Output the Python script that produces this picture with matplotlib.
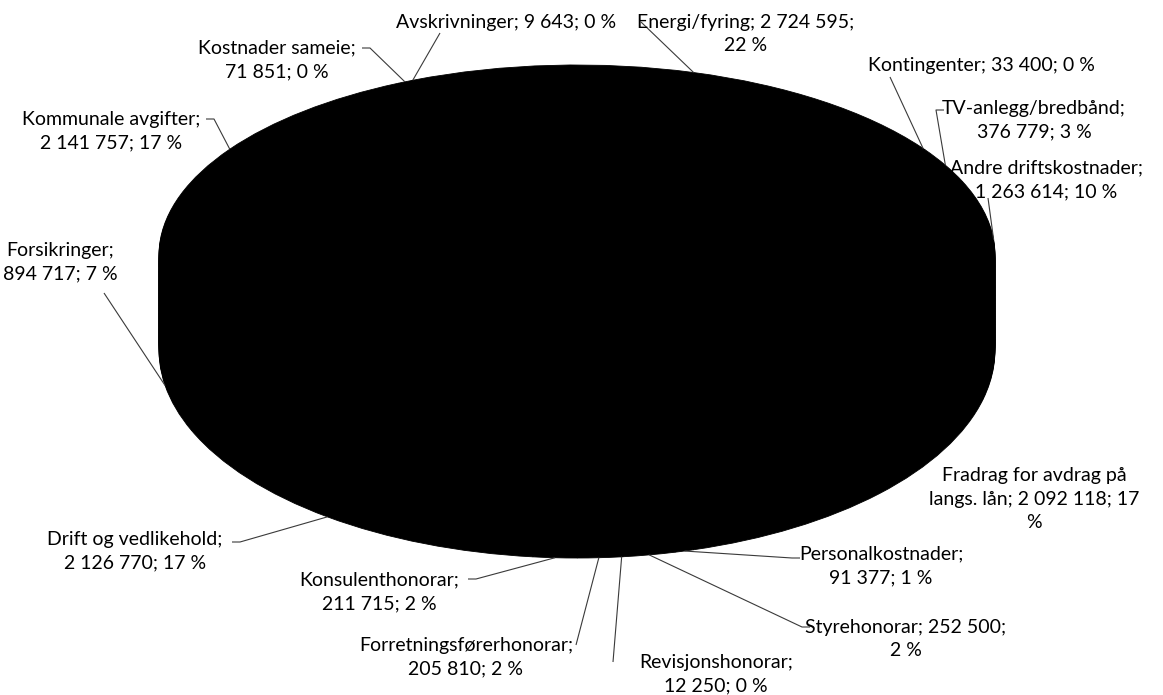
import matplotlib
matplotlib.use('Agg')
import matplotlib.pyplot as plt
from matplotlib.transforms import Affine2D
import numpy as np

plt.rcParams['font.family'] = ['Lato', 'DejaVu Sans']

#%% Data (clockwise from the top)

categories = ['Energi/fyring', 'Kontingenter', 'TV-anlegg/bredbånd',
              'Andre driftskostnader', 'Fradrag for avdrag på\nlangs. lån',
              'Personalkostnader', 'Styrehonorar', 'Revisjonshonorar',
              'Forretningsførerhonorar', 'Konsulenthonorar',
              'Drift og vedlikehold', 'Forsikringer', 'Kommunale avgifter',
              'Kostnader sameie', 'Avskrivninger']
amounts = [2724595, 33400, 376779, 1263614, 2092118, 91377, 252500, 12250,
           205810, 211715, 2126770, 894717, 2141757, 71851, 9643]
percents = [22, 0, 3, 10, 17, 1, 2, 0, 2, 2, 17, 7, 17, 0, 0]

#%% Layout (pixels in a 1163x695 picture)

W, H = 1163, 695
CX = 577
RX = 418
CY, RY = 255, 190        # top face: centre y and half height
CY_B, RY_B = 350, 208    # bottom face (perspective makes it taller)
START = 113

label_fmt = ['{n}; {v};\n{p} %', '{n}; {v}; {p} %', '{n};\n{v}; {p} %',
             '{n};\n{v}; {p} %', '{n}; {v}; {p}\n%', '{n};\n{v}; {p} %',
             '{n}; {v};\n{p} %', '{n};\n{v}; {p} %', '{n};\n{v}; {p} %',
             '{n};\n{v}; {p} %', '{n};\n{v}; {p} %', '{n};\n{v}; {p} %',
             '{n};\n{v}; {p} %', '{n};\n{v}; {p} %', '{n}; {v}; {p} %']
label_xy = [(746, 34), (981, 66), (1034, 120), (1046, 180), (1034, 499),
            (881, 566), (906, 639), (716, 674), (466, 657), (379, 592),
            (135, 551), (60, 262), (111, 131), (277, 60), (506, 23)]
leader_start = [(641, 22), (890, 77), (944, 110), (988, 198), None,
                (800, 558), (810, 627), (613, 662), (576, 645), (468, 579),
                (232, 542), (104, 293), (206, 119), (362, 48), (440, 33)]
hook = [0, 0, -8, 0, 0, -8, -8, 0, 0, 8, 8, 0, 8, 8, 0]


def px(x, y):
    return (x - CX) / RX, (CY - y) / RY


def fmt_amount(v):
    return f'{v:,}'.replace(',', ' ')


#%% Figure

fig = plt.figure(figsize=(W / 100, H / 100), dpi=100)
ax = fig.add_axes([0, 0, 1, 1])

# layers from the bottom face up to the top face give the 3D body
for t in np.linspace(1, 0, 60):
    cy_k = CY + t * (CY_B - CY)
    ry_k = RY + t * (RY_B - RY)
    wedges, _ = ax.pie(amounts, startangle=START, counterclock=False,
                       colors=['black'] * len(amounts), radius=1,
                       wedgeprops=dict(linewidth=0.6, edgecolor='black'))
    tr = Affine2D().scale(1, ry_k / RY).translate(0, (CY - cy_k) / RY)
    for w in wedges:
        w.set_transform(tr + ax.transData)

ax.set_aspect('auto')
ax.set_xlim(-CX / RX, (W - CX) / RX)
ax.set_ylim((CY - H) / RY, CY / RY)
ax.set_axis_off()

# labels and leader lines
total = np.sum(amounts)
mids = (np.cumsum(amounts) - np.array(amounts) / 2) / total
for i, name in enumerate(categories):
    txt = label_fmt[i].format(n=name, v=fmt_amount(amounts[i]), p=percents[i])
    ax.text(*px(*label_xy[i]), txt, ha='center', va='center',
            multialignment='center', fontsize=14, linespacing=1.45,
            color='black')
    if leader_start[i] is None:
        continue
    th = np.deg2rad(START - 360 * mids[i])
    if np.sin(th) >= 0:
        ex, ey = CX + RX * np.cos(th), CY - RY * np.sin(th)
    else:
        ex, ey = CX + RX * np.cos(th), CY_B - RY_B * np.sin(th)
    sx, sy = px(*leader_start[i])
    hx, hy = px(leader_start[i][0] + hook[i], leader_start[i][1])
    ex, ey = px(ex, ey)
    ax.plot([sx, hx, ex], [sy, hy, ey], color='#3a3a3a', lw=0.8,
            solid_capstyle='butt')

plt.savefig('out.png', dpi=100)
